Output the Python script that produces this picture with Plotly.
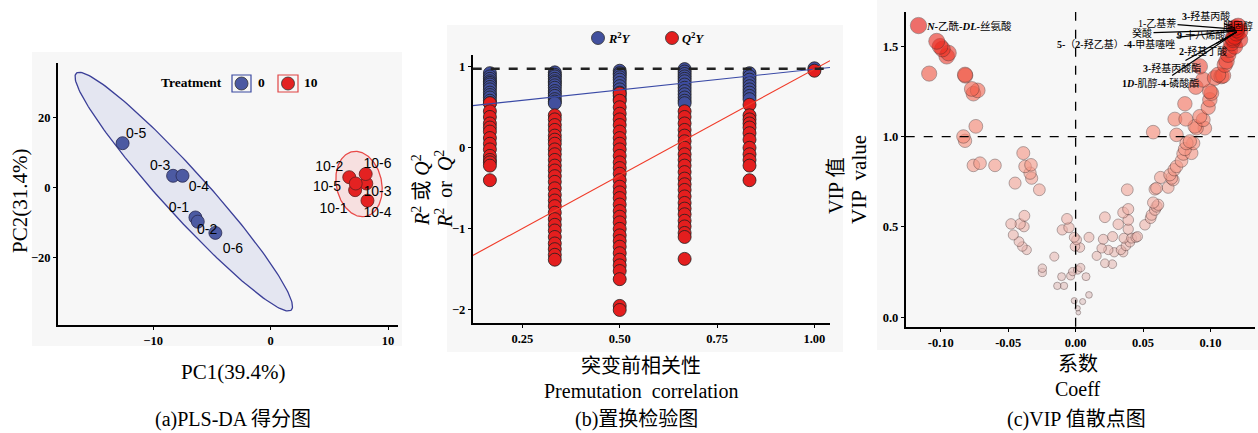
import numpy as np
import plotly.graph_objects as go

W, H = 1258, 433

# ---------------- Panel (a): PLS-DA scores ----------------
a_labels_0 = ["0-1", "0-2", "0-3", "0-4", "0-5", "0-6"]
a_pc1_0 = [-6.4, -6.2, -8.3, -7.5, -12.6, -4.7]
a_pc2_0 = [-8.5, -9.7, 3.4, 3.4, 12.7, -12.9]
a_labels_10 = ["10-1", "10-2", "10-3", "10-4", "10-5", "10-6"]
a_pc1_10 = [7.2, 6.7, 8.15, 8.25, 7.25, 8.1]
a_pc2_10 = [-0.7, 3.0, 1.2, -3.7, 1.2, 3.9]
a_xticks = [-10, 0, 10]
a_yticks = [-20, 0, 20]

# ---------------- Panel (b): permutation test ----------------
b_x_r2 = [1/6]*13 + [2/6]*14 + [3/6]*11 + [4/6]*13 + [5/6]*9 + [1.0]
b_r2 = [0.92, 0.88, 0.85, 0.82, 0.80, 0.78, 0.75, 0.72, 0.68, 0.65, 0.62, 0.58, 0.55,
        0.93, 0.90, 0.88, 0.85, 0.82, 0.80, 0.77, 0.74, 0.70, 0.67, 0.64, 0.60, 0.57, 0.55,
        0.95, 0.92, 0.90, 0.87, 0.84, 0.80, 0.76, 0.72, 0.68, 0.64, 0.60,
        0.97, 0.94, 0.91, 0.88, 0.85, 0.82, 0.78, 0.74, 0.70, 0.66, 0.62, 0.58, 0.55,
        0.92, 0.88, 0.84, 0.80, 0.76, 0.72, 0.68, 0.64, 0.60,
        0.98]
b_x_q2 = [1/6]*14 + [2/6]*27 + [3/6]*33 + [4/6]*23 + [5/6]*12 + [1.0]
b_q2 = [0.55, 0.45, 0.38, 0.30, 0.25, 0.20, 0.12, 0.05, -0.02, -0.10, -0.15, -0.18, -0.22, -0.40,
        0.40, 0.35, 0.28, 0.22, 0.15, 0.10, 0.05, -0.02, -0.08, -0.15, -0.22, -0.28, -0.35, -0.42,
        -0.50, -0.58, -0.65, -0.72, -0.80, -0.88, -0.95, -1.02, -1.10, -1.18, -1.25, -1.32, -1.38,
        0.67, 0.58, 0.50, 0.42, 0.35, 0.28, 0.20, 0.12, 0.05, -0.02, -0.10, -0.18, -0.25, -0.32,
        -0.40, -0.48, -0.55, -0.62, -0.70, -0.78, -0.85, -0.92, -1.00, -1.08, -1.15, -1.22, -1.30,
        -1.38, -1.45, -1.52, -1.62, -1.95, -2.00,
        0.45, 0.38, 0.30, 0.22, 0.15, 0.08, 0.00, -0.08, -0.15, -0.22, -0.30, -0.38, -0.45, -0.52,
        -0.60, -0.68, -0.75, -0.82, -0.90, -0.97, -1.05, -1.10, -1.37,
        0.53, 0.40, 0.35, 0.30, 0.25, 0.18, 0.10, 0.00, -0.08, -0.15, -0.22, -0.40,
        0.95]
b_r2_line = [0.457, 0.513]     # intercept, slope
b_q2_line = [-1.65, 2.62]      # intercept, slope
b_ref = 0.975
b_xticks = [0.25, 0.50, 0.75, 1.00]
b_xticktext = ["0.25", "0.50", "0.75", "1.00"]
b_yticks = [-2, -1, 0, 1]

# ---------------- Panel (c): VIP scatter ----------------
c_coeff = [-0.1165, -0.103, -0.1005, -0.0988, -0.0943, -0.0956, -0.1086, -0.082, -0.0818, -0.077,
           -0.0726, -0.0758, -0.074, -0.0832, -0.082, -0.0758, -0.0709, -0.0598, -0.0388, -0.0449,
           -0.0375, -0.0331, -0.0338, -0.0326, -0.0269, -0.038, -0.0479, -0.0412, -0.0383, -0.0462,
           -0.042, -0.0395, -0.0363, -0.0247, -0.0247, -0.0158, -0.0136, -0.0086, -0.0104, -0.0099,
           -0.0064, -0.0049, -0.0037, -0.0022, -0.001, -0.0005, 0.0007, 0.0032, 0.0037, 0.0015,
           0.0077, 0.0099, 0.0099, 0.0052, -0.001, 0.0015, 0.002,
           0.0156, 0.0193, 0.0205, 0.0217, 0.0217, 0.0272, 0.0242, 0.0274, 0.0286, 0.0316,
           0.0336, 0.0353, 0.0358, 0.0353, 0.0373, 0.0383, 0.039, 0.039, 0.039, 0.0402,
           0.0415, 0.0447, 0.0459, 0.0514, 0.0556, 0.0563, 0.0575, 0.0588, 0.060, 0.0612,
           0.0588, 0.060, 0.0575, 0.063, 0.0686, 0.0699, 0.0711, 0.0723, 0.0731, 0.0748,
           0.0785, 0.0798, 0.081, 0.0822, 0.0847, 0.0872, 0.0859, 0.0748, 0.0736, 0.0817,
           0.081, 0.0884, 0.0896, 0.0921, 0.0946, 0.0958, 0.0983, 0.0995, 0.1007, 0.0995,
           0.0891, 0.0946, 0.0921, 0.1032, 0.1057, 0.1081, 0.1094, 0.1106, 0.1119, 0.1131,
           0.1143, 0.1156, 0.1168, 0.118, 0.1193, 0.1193, 0.118, 0.1205, 0.1217, 0.1168,
           0.1217, 0.118]
c_vip = [1.615, 1.528, 1.50, 1.485, 1.463, 1.445, 1.349, 1.343, 1.338, 1.264,
         1.256, 1.238, 1.057, 1.001, 0.977, 0.841, 0.853, 0.841, 0.909, 0.743,
         0.835, 0.844, 0.798, 0.770, 0.706, 0.562, 0.517, 0.517, 0.502, 0.456,
         0.419, 0.392, 0.373, 0.272, 0.248, 0.336, 0.174, 0.174, 0.225, 0.484,
         0.545, 0.497, 0.229, 0.253, 0.443, 0.392, 0.429, 0.386, 0.275, 0.262,
         0.225, 0.443, 0.124, 0.087, 0.092, 0.050, 0.026,
         0.340, 0.382, 0.432, 0.554, 0.299, 0.294, 0.373, 0.447, 0.360, 0.515,
         0.373, 0.580, 0.438, 0.360, 0.395, 0.706, 0.599, 0.539, 0.488, 0.416,
         0.438, 0.442, 0.447, 0.512, 0.549, 0.567, 0.635, 0.595, 0.613, 0.623,
         0.709, 0.715, 1.025, 0.774, 0.719, 0.789, 0.770, 0.761, 0.817, 0.835,
         0.866, 0.905, 0.931, 0.964, 0.974, 0.964, 0.909, 1.010, 1.097, 1.097,
         1.182, 1.057, 1.047, 1.112, 1.094, 1.047, 1.162, 1.204, 1.241, 1.251,
         1.275, 1.315, 1.389, 1.325, 1.343, 1.334, 1.338, 1.398, 1.417, 1.454,
         1.482, 1.519, 1.537, 1.555, 1.574, 1.592, 1.602, 1.611, 1.583, 1.546,
         1.537, 1.500]
c_xticks = [-0.10, -0.05, 0.00, 0.05, 0.10]
c_xticktext = ["-0.10", "-0.05", "0.00", "0.05", "0.10"]
c_yticks = [0.0, 0.5, 1.0, 1.5]
c_yticktext = ["0.0", "0.5", "1.0", "1.5"]
c_vip_cut = 1.0
c_names = ["胆固醇", "<b>3-</b>羟基丙酸", "1-乙基萘", "癸酸", "<b>9-</b>十八烯酸",
           "<b>5-</b>（<b>2</b>-羟乙基）<b>-4-</b>甲基噻唑", "<b>2-</b>羟基丁酸",
           "<b>3-</b>羟基丙酸酯", "<b>1<i>D</i>-</b>肌醇<b>-4-</b>磷酸酯"]
c_name_coeff = [0.1205, 0.1185, 0.118, 0.118, 0.119, 0.119, 0.1195, 0.1195, 0.1195]
c_name_vip = [1.611, 1.600, 1.595, 1.590, 1.590, 1.585, 1.580, 1.580, 1.580]

# ---------------- layout geometry (pixels) ----------------
def px(x):
    return x / W

def py(y):
    return 1 - y / H

A_X = (58, 398); A_Y = (63, 325)
B_X = (472.7, 830); B_Y = (55, 322.7)
C_X = (905.7, 1255); C_Y = (12, 326.7)
A_XR = [-18.1, 10.85]; A_YR = [-39.2, 35.6]
B_XR = [0.1225, 1.04]; B_YR = [-2.157, 1.144]
C_XR = [-0.126, 0.133]; C_YR = [-0.052, 1.69]

SERIF = "Liberation Serif, Noto Sans CJK SC"
SANS = "Liberation Sans, Arial"
tickfont = dict(family="Liberation Serif", size=12.5, color="black", weight="bold")

fig = go.Figure()

# --- panel a ellipses ---
t = np.linspace(0, 2 * np.pi, 200)
def ellipse(c, a, b):
    return (c[0] + np.cos(t) * a[0] + np.sin(t) * b[0],
            c[1] + np.cos(t) * a[1] + np.sin(t) * b[1])

ex, ey = ellipse((-7.39, -1.14), (9.15, -33.8), (1.41, 4.28))
fig.add_trace(go.Scatter(x=ex, y=ey, mode="lines", fill="toself",
                         fillcolor="rgba(205,208,232,0.45)",
                         line=dict(color="#3b3f98", width=1.3),
                         xaxis="x", yaxis="y", hoverinfo="skip", showlegend=False))
ex, ey = ellipse((7.53, 1.05), (0.57, -9.24), (1.89, 1.30))
fig.add_trace(go.Scatter(x=ex, y=ey, mode="lines", fill="toself",
                         fillcolor="rgba(248,205,205,0.55)",
                         line=dict(color="#e84a48", width=1.3),
                         xaxis="x", yaxis="y", hoverinfo="skip", showlegend=False))

fig.add_trace(go.Scatter(x=a_pc1_0, y=a_pc2_0, mode="markers",
                         marker=dict(size=13, color="#4c5aa2",
                                     line=dict(color="#2a2a50", width=0.8)),
                         xaxis="x", yaxis="y", showlegend=False))
fig.add_trace(go.Scatter(x=a_pc1_10, y=a_pc2_10, mode="markers",
                         marker=dict(size=13, color="#e42222",
                                     line=dict(color="#602020", width=0.8)),
                         xaxis="x", yaxis="y", showlegend=False))

# labels for panel a (offsets in data units)
a_off_0 = [(-1.4, 2.6), (0.8, -2.4), (-1.1, 2.6), (1.4, -3.3), (1.15, 2.6), (1.5, -4.7)]
a_off_10 = [(-1.85, -5.5), (-1.7, 2.8), (0.95, -2.6), (0.85, -3.6), (-2.45, -1.2), (1.0, 2.6)]
fig.add_trace(go.Scatter(x=[p + o[0] for p, o in zip(a_pc1_0, a_off_0)],
                         y=[p + o[1] for p, o in zip(a_pc2_0, a_off_0)],
                         mode="text", text=a_labels_0,
                         textfont=dict(family=SANS, size=14, color="black"),
                         xaxis="x", yaxis="y", showlegend=False, hoverinfo="skip"))
fig.add_trace(go.Scatter(x=[p + o[0] for p, o in zip(a_pc1_10, a_off_10)],
                         y=[p + o[1] for p, o in zip(a_pc2_10, a_off_10)],
                         mode="text", text=a_labels_10,
                         textfont=dict(family=SANS, size=14, color="black"),
                         xaxis="x", yaxis="y", showlegend=False, hoverinfo="skip"))

# --- panel b ---
fig.add_trace(go.Scatter(x=b_x_r2, y=b_r2, mode="markers",
                         marker=dict(size=13, color="#42509e",
                                     line=dict(color="#202020", width=0.8)),
                         xaxis="x2", yaxis="y2", showlegend=False))
fig.add_trace(go.Scatter(x=b_x_q2, y=b_q2, mode="markers",
                         marker=dict(size=13, color="#e41e1e",
                                     line=dict(color="#202020", width=0.8)),
                         xaxis="x2", yaxis="y2", showlegend=False))
lx = np.array(B_XR)
fig.add_trace(go.Scatter(x=lx, y=b_r2_line[0] + b_r2_line[1] * lx, mode="lines",
                         line=dict(color="#3a4aa6", width=1.1),
                         xaxis="x2", yaxis="y2", showlegend=False, hoverinfo="skip"))
fig.add_trace(go.Scatter(x=lx, y=b_q2_line[0] + b_q2_line[1] * lx, mode="lines",
                         line=dict(color="#f03a28", width=1.1),
                         xaxis="x2", yaxis="y2", showlegend=False, hoverinfo="skip"))

# --- panel c ---
order = np.argsort(c_vip)
cv = np.array(c_vip)[order]
cc = np.array(c_coeff)[order]
fig.add_trace(go.Scatter(x=cc, y=cv, mode="markers",
                         marker=dict(size=3 + 10.5 * np.sqrt(cv), color=cv,
                                     cmin=0, cmax=1.65,
                                     colorscale=[[0, "rgb(218,196,196)"], [0.35, "rgb(240,176,166)"],
                                                 [0.6, "rgb(246,140,120)"], [0.8, "rgb(242,90,70)"],
                                                 [1, "rgb(232,12,6)"]],
                                     opacity=0.6,
                                     line=dict(color="rgba(60,35,35,0.8)", width=0.8)),
                         xaxis="x3", yaxis="y3", showlegend=False))

# ---------------- axes ----------------
def axis(dom, rng, tv, tt=None, anchor=None, horiz=True):
    d = dict(domain=[px(dom[0]), px(dom[1])] if horiz else [py(dom[1]), py(dom[0])],
             range=rng, tickvals=tv, showgrid=False, zeroline=False,
             showline=True, linecolor="black", linewidth=1.8, ticks="outside",
             ticklen=3, tickwidth=1.2, tickcolor="black", tickfont=tickfont,
             anchor=anchor, fixedrange=True)
    if tt is not None:
        d["ticktext"] = tt
    return d

fig.update_layout(
    width=W, height=H, margin=dict(l=0, r=0, t=0, b=0),
    paper_bgcolor="white", plot_bgcolor="rgba(0,0,0,0)",
    xaxis=axis(A_X, A_XR, a_xticks, anchor="y"),
    yaxis=axis(A_Y, A_YR, a_yticks, anchor="x", horiz=False),
    xaxis2=axis(B_X, B_XR, b_xticks, b_xticktext, anchor="y2"),
    yaxis2=axis(B_Y, B_YR, b_yticks, anchor="x2", horiz=False),
    xaxis3=axis(C_X, C_XR, c_xticks, c_xticktext, anchor="y3"),
    yaxis3=axis(C_Y, C_YR, c_yticks, c_yticktext, anchor="x3", horiz=False),
)

shapes = []
# panel backgrounds
for x0, x1, y0, y1 in [(32, 402, 52, 346), (447, 843, 25, 352), (877, 1258, 0, 350)]:
    shapes.append(dict(type="rect", xref="paper", yref="paper", x0=px(x0), x1=px(x1),
                       y0=py(y1), y1=py(y0), fillcolor="#f7f7f7", line=dict(width=0),
                       layer="below"))
# panel a legend boxes / circles
for (bx0, bx1), col, fill in [((232, 251), "#3b4aa0", "#4c5aa2"), ((278, 298), "#e04545", "#e42222")]:
    shapes.append(dict(type="rect", xref="paper", yref="paper", x0=px(bx0), x1=px(bx1),
                       y0=py(92), y1=py(75), line=dict(color=col, width=1.2),
                       fillcolor="rgba(0,0,0,0)"))
    cx = (bx0 + bx1) / 2
    shapes.append(dict(type="circle", xref="paper", yref="paper", x0=px(cx - 6.5), x1=px(cx + 6.5),
                       y0=py(90), y1=py(77), fillcolor=fill, line=dict(color="#303030", width=0.8)))
# panel b legend circles
for cx, fill in [(598, "#42509e"), (672, "#e41e1e")]:
    shapes.append(dict(type="circle", xref="paper", yref="paper", x0=px(cx - 6.5), x1=px(cx + 6.5),
                       y0=py(44.5), y1=py(31.5), fillcolor=fill, line=dict(color="#303030", width=0.8)))
# panel b reference dashed line
shapes.append(dict(type="line", xref="x2 domain", yref="y2", x0=0, x1=1, y0=b_ref, y1=b_ref,
                   line=dict(color="#222222", width=2.6, dash="dash")))
# panel c reference lines
shapes.append(dict(type="line", xref="x3 domain", yref="y3", x0=0, x1=1, y0=c_vip_cut, y1=c_vip_cut,
                   line=dict(color="black", width=1.3, dash="dash")))
shapes.append(dict(type="line", xref="x3", yref="y3 domain", x0=0, x1=0, y0=0, y1=1,
                   line=dict(color="black", width=1.3, dash="dash")))
fig.update_layout(shapes=shapes)

ann = []
def text(s, x, y, size=18, family=SERIF, angle=0, xanchor="center", color="black"):
    ann.append(dict(text=s, xref="paper", yref="paper", x=px(x), y=py(y), showarrow=False,
                    xanchor=xanchor, yanchor="middle", textangle=angle,
                    font=dict(family=family, size=size, color=color)))

# panel a texts
text("<b>Treatment</b>", 224, 83, size=13.5, xanchor="right")
text("<b>0</b>", 256, 83, size=13.5, xanchor="left")
text("<b>10</b>", 302, 83, size=13.5, xanchor="left")
text("PC2(31.4%)", 20, 201, size=21, angle=-90)
text("PC1(39.4%)", 233, 372, size=21)
text("(a)PLS-DA 得分图", 233, 419, size=20)
# panel b texts
text("<b><i>R</i><sup>2</sup><i>Y</i></b>", 606, 38, size=12.5, xanchor="left")
text("<b><i>Q</i><sup>2</sup><i>Y</i></b>", 680, 38, size=12.5, xanchor="left")
text("<i>R</i><sup>2</sup> 或 <i>Q</i><sup>2</sup>", 421, 190, size=20, angle=-90)
text("<i>R</i><sup>2</sup>  or  <i>Q</i><sup>2</sup>", 444, 189, size=20, angle=-90)
text("突变前相关性", 641, 366, size=20)
text("Premutation  correlation", 641, 391, size=20)
text("(b)置换检验图", 636, 419, size=20)
# panel c texts
text("VIP 值", 836, 186, size=20, angle=-90)
text("VIP  value", 859, 180, size=21, angle=-90)
text("系数", 1078, 364, size=20)
text("Coeff", 1078, 389, size=20)
text("(c)VIP 值散点图", 1076, 419, size=20)
text("<b><i>N</i>-</b>乙酰<b>-<i>DL</i>-</b>丝氨酸", 924, 26, size=10.5, xanchor="left")

def c_to_px(cx, cy):
    X = C_X[0] + (cx - C_XR[0]) / (C_XR[1] - C_XR[0]) * (C_X[1] - C_X[0])
    Y = C_Y[0] + (C_YR[1] - cy) / (C_YR[1] - C_YR[0]) * (C_Y[1] - C_Y[0])
    return X, Y

label_centers = [(1238, 10), (1206, 16), (1157, 23), (1142, 33), (1201, 35),
                 (1116, 44), (1203, 51), (1172, 68), (1161, 83)]
for i, (name, cxv, cyv) in enumerate(zip(c_names, c_name_coeff, c_name_vip)):
    tx, ty = label_centers[i]
    hx, hy = c_to_px(cxv, cyv)
    ann.append(dict(text=name, xref="x3", yref="y3", x=cxv, y=cyv,
                    showarrow=(i != 0), arrowhead=0, arrowwidth=1.2, arrowcolor="black",
                    ax=tx - hx, ay=ty - hy, standoff=0,
                    font=dict(family=SERIF, size=10, color="black")))
fig.update_layout(annotations=ann)

fig.write_html("out.html", config={"displayModeBar": False},
               post_script="document.body.style.margin='0';document.body.style.overflow='hidden';")
